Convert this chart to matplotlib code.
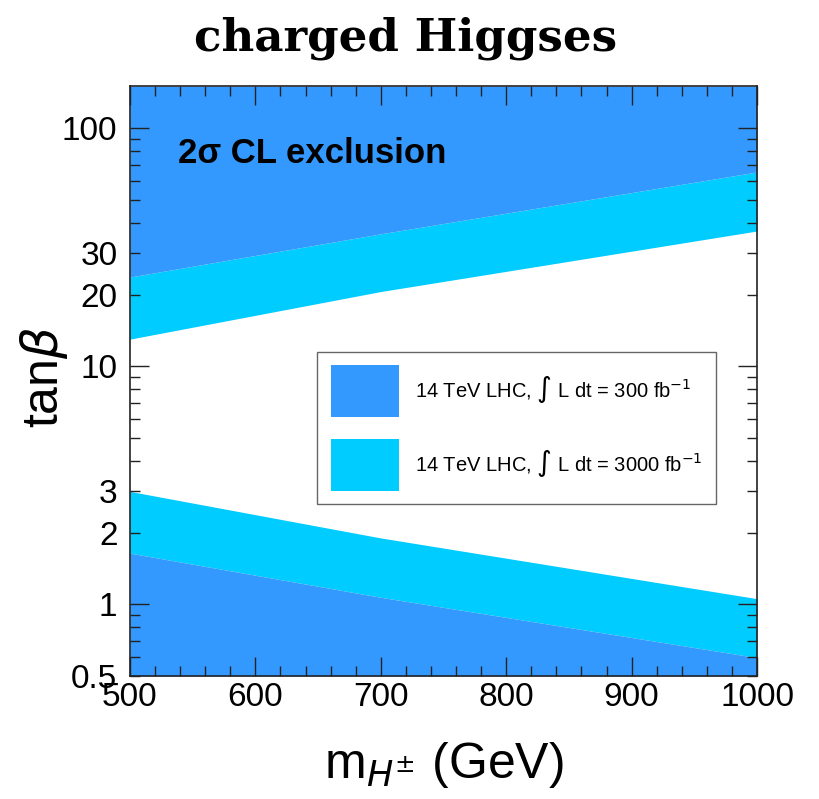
import numpy as np
import matplotlib
matplotlib.use("Agg")
import matplotlib.pyplot as plt
from matplotlib.patches import Patch
from matplotlib.ticker import FixedLocator, FuncFormatter, MultipleLocator

plt.rcParams['font.family'] = ['Liberation Sans', 'DejaVu Sans']
plt.rcParams['mathtext.fontset'] = 'dejavusans'

# charged Higgs mass points (GeV)
mH = [500, 700, 1000]
# tan(beta) exclusion boundaries
upper_300 = [23.7, 36.0, 65.5]
upper_3000 = [13.0, 20.6, 37.0]
lower_3000 = [2.98, 1.9, 1.056]
lower_300 = [1.64, 1.07, 0.597]

tb_min, tb_max = 0.5, 150
labels = [u'14 TeV LHC, $\\int$ L dt = 300 fb$^{-1}$',
          u'14 TeV LHC, $\\int$ L dt = 3000 fb$^{-1}$']
col_300 = '#3399ff'
col_3000 = '#00ccff'

fig = plt.figure(figsize=(8.2, 7.99), dpi=100, facecolor='w')
ax = fig.add_axes([0.1585, 0.154, 0.7647, 0.738])

# upper bands
ax.fill_between(mH, upper_3000, upper_300, color=col_3000, lw=0)
ax.fill_between(mH, upper_300, tb_max, color=col_300, lw=0)
# lower bands
ax.fill_between(mH, lower_300, lower_3000, color=col_3000, lw=0)
ax.fill_between(mH, tb_min, lower_300, color=col_300, lw=0)

ax.set_yscale('log')
ax.set_xlim(500, 1000)
ax.set_ylim(tb_min, tb_max)

ax.xaxis.set_major_locator(MultipleLocator(100))
ax.xaxis.set_minor_locator(MultipleLocator(20))
ax.yaxis.set_major_locator(FixedLocator([1, 10, 100]))
ax.yaxis.set_major_formatter(FuncFormatter(lambda v, p: '%g' % v))
minors = [m * d for d in (0.1, 1, 10, 100) for m in range(2, 10)]
ax.yaxis.set_minor_locator(FixedLocator(minors))
shown = [0.5, 2, 3, 20, 30]
ax.yaxis.set_minor_formatter(FuncFormatter(
    lambda v, p: '%g' % v if any(abs(v - s) < 1e-6 for s in shown) else ''))

ax.tick_params(which='both', direction='in', top=True, right=True,
               labelsize=24, color='#222222', width=1)
ax.tick_params(which='major', length=14, pad=9)
ax.tick_params(which='minor', length=7, pad=9)
ax.tick_params(axis='x', which='both', pad=4)
for s in ax.spines.values():
    s.set_linewidth(1.2)
    s.set_color('#222222')

ax.set_xlabel(u'm$_{H^{\\pm}}$ (GeV)', fontsize=36, labelpad=20)
ax.set_ylabel(u'tan$\\beta$', fontsize=36)
ax.yaxis.set_label_coords(-0.095, 0.507)

ax.text(0.077, 0.886, u'2σ CL exclusion', transform=ax.transAxes,
        fontsize=25, fontweight='bold', va='center', ha='left')

handles = [Patch(facecolor=col_300, edgecolor='none'),
           Patch(facecolor=col_3000, edgecolor='none')]
leg = ax.legend(handles, labels, loc='lower left', bbox_to_anchor=(0.299, 0.291),
                fontsize=14.5, handlelength=3.4, handleheight=3.6, labelspacing=1.1,
                handletextpad=0.8, borderpad=0.65, borderaxespad=0, fancybox=False,
                framealpha=1, edgecolor='#666666')
leg.get_frame().set_linewidth(1)

fig.text(0.494, 0.952, 'charged Higgses', fontsize=32.5, fontweight='bold',
         family='DejaVu Serif', ha='center', va='center')

fig.savefig('out.png', dpi=100)
